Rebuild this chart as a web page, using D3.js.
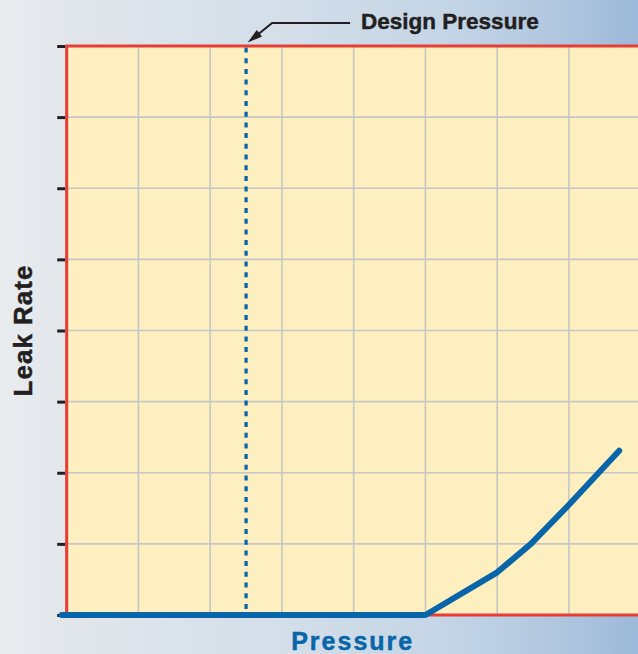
<!DOCTYPE html>
<html>

<head>
    <style>
        body { margin: 0; overflow: hidden; }
        svg { display: block; font-family: "Liberation Sans", Arial, Helvetica, sans-serif; font-weight: bold; }
        text { stroke-width: 0.45; paint-order: stroke; }
    </style>
</head>

<body>
    <script src="https://d3js.org/d3.v7.min.js"></script>
    <div id="chart"></div>
    <script>
        const width = 638
        const height = 654
        const plot = { left: 66.7, top: 46, bottom: 615, cell: 71.75 }

        // data, in grid units
        const pressure = [-0.07, 5, 6, 6.47, 7, 7.7]
        const leakRate = [0, 0, 0.6, 1.0, 1.55, 2.31]
        const designPressure = 2.5
        const xTicks = [0, 1, 2, 3, 4, 5, 6, 7, 8]
        const yTicks = [0, 1, 2, 3, 4, 5, 6, 7, 8]

        const x = d3.scaleLinear().domain([0, 8]).range([plot.left, plot.left + 8 * plot.cell])
        const y = d3.scaleLinear().domain([0, 8]).range([plot.bottom, plot.top])

        const svg = d3.select("#chart").append("svg").attr("width", width).attr("height", height)

        const grad = svg.append("defs").append("linearGradient").attr("id", "bg")
        const stops = [[0, "#e9ecef"], [0.12, "#e1e6eb"], [0.45, "#d3dee9"], [0.7, "#c4d5e6"], [0.88, "#b0c6df"], [1, "#9cb9d9"]]
        stops.forEach(s => grad.append("stop").attr("offset", s[0]).attr("stop-color", s[1]))

        svg.append("rect").attr("width", width).attr("height", height).attr("fill", "url(#bg)")

        svg.append("rect")
            .attr("x", x(0)).attr("y", y(8))
            .attr("width", x(8) - x(0)).attr("height", y(0) - y(8))
            .attr("fill", "#fdefbf")

        // grid
        svg.append("g").selectAll("line")
            .data(xTicks.slice(1, -1))
            .enter().append("line")
            .attr("x1", d => x(d)).attr("x2", d => x(d))
            .attr("y1", y(0)).attr("y2", y(8))
            .attr("stroke", "#c6c6c4").attr("stroke-width", 1.6)

        svg.append("g").selectAll("line")
            .data(yTicks.slice(1, -1))
            .enter().append("line")
            .attr("x1", x(0)).attr("x2", x(8))
            .attr("y1", d => y(d)).attr("y2", d => y(d))
            .attr("stroke", "#c6c6c4").attr("stroke-width", 1.6)

        // design pressure line
        svg.append("line")
            .attr("x1", x(designPressure)).attr("x2", x(designPressure))
            .attr("y1", y(8) + 1.5).attr("y2", y(0))
            .attr("stroke", "#0b66ad").attr("stroke-width", 3.3)
            .attr("stroke-dasharray", "5,5.7")

        // axis ticks
        const yAxis = svg.append("g")
            .attr("transform", "translate(" + (x(0) - 1.5) + ",0)")
            .call(d3.axisLeft(y).tickValues(yTicks).tickSize(8).tickSizeOuter(0).tickFormat(""))
        yAxis.select(".domain").attr("stroke", "#a9a9a9").attr("stroke-width", 1)
        yAxis.selectAll(".tick line").attr("stroke", "#231f20").attr("stroke-width", 3)

        // red frame
        svg.append("rect")
            .attr("x", x(0)).attr("y", y(8))
            .attr("width", x(8) - x(0)).attr("height", y(0) - y(8))
            .attr("fill", "none")
            .attr("stroke", "#e63d36").attr("stroke-width", 3)

        // leak curve
        const line = d3.line().x(d => x(d[0])).y(d => y(d[1]))
        svg.append("path")
            .datum(d3.zip(pressure, leakRate))
            .attr("d", line)
            .attr("fill", "none")
            .attr("stroke", "#0865a9").attr("stroke-width", 6)
            .attr("stroke-linecap", "round").attr("stroke-linejoin", "round")

        // annotation
        const dx = x(designPressure)
        const tip = [dx + 1.6, 42.6]
        const elbow = [dx + 26, 23]
        svg.append("path")
            .attr("d", "M" + (dx + 104) + "," + elbow[1] + "L" + elbow[0] + "," + elbow[1] + "L" + (tip[0] + 9) + "," + (tip[1] - 7))
            .attr("fill", "none").attr("stroke", "#231f20").attr("stroke-width", 2)

        const ang = Math.atan2(tip[1] - elbow[1], tip[0] - elbow[0])
        const len = 15, half = 4.2
        const bx = tip[0] - len * Math.cos(ang), by = tip[1] - len * Math.sin(ang)
        const px = -Math.sin(ang) * half, py = Math.cos(ang) * half
        svg.append("path")
            .attr("d", "M" + tip[0] + "," + tip[1] + "L" + (bx + px) + "," + (by + py) + "L" + (bx - px) + "," + (by - py) + "Z")
            .attr("fill", "#231f20")

        svg.append("text")
            .attr("x", dx + 115).attr("y", 29.3)
            .attr("font-size", 22.5)
            .attr("fill", "#231f20").attr("stroke", "#231f20")
            .text("Design Pressure")

        svg.append("text")
            .attr("transform", "translate(31.5," + y(4) + ") rotate(-90)")
            .attr("text-anchor", "middle")
            .attr("font-size", 26)
            .attr("letter-spacing", 1)
            .attr("fill", "#231f20").attr("stroke", "#231f20")
            .text("Leak Rate")

        svg.append("text")
            .attr("x", x(4) - 1).attr("y", 649.5)
            .attr("text-anchor", "middle")
            .attr("font-size", 25)
            .attr("letter-spacing", 2)
            .attr("fill", "#0865a9").attr("stroke", "#0865a9")
            .text("Pressure")
    </script>
</body>

</html>
